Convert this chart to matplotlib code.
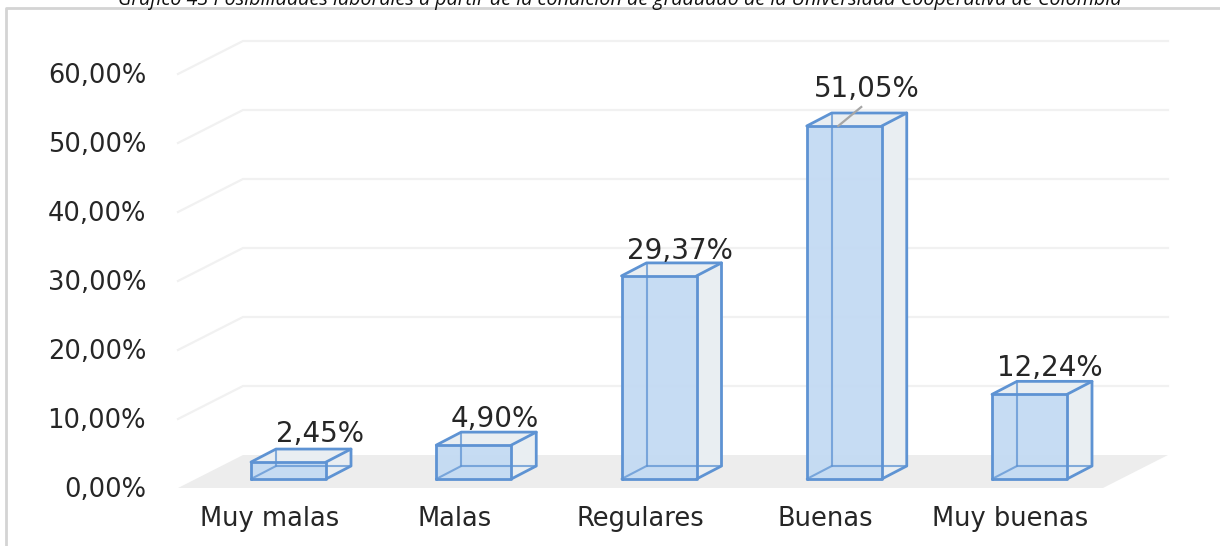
import matplotlib
matplotlib.use("Agg")
import matplotlib.pyplot as plt

categories = ["Muy malas", "Malas", "Regulares", "Buenas", "Muy buenas"]
values = [2.45, 4.90, 29.37, 51.05, 12.24]
value_labels = ["2,45%", "4,90%", "29,37%", "51,05%", "12,24%"]
ticks = [0, 10, 20, 30, 40, 50, 60]
tick_labels = ["0,00%", "10,00%", "20,00%", "30,00%", "40,00%", "50,00%", "60,00%"]
title = "Gráfico 43 Posibilidades laborales a partir de la condición de graduado de la Universidad Cooperativa de Colombia"

W, H = 1220, 546
PX_X, PX_Y = 185.25, 6.915      # pixels per category / per percent
X0_PX, Y0_PX = 288.5, 479       # pixel position of category 0, value 0
px = lambda p: p / PX_X
py = lambda p: p / PX_Y

fig = plt.figure(figsize=(W / 100, H / 100), dpi=100, facecolor="white")
ax = fig.add_axes([0, 0, 1, 1])
ax.set_xlim(-X0_PX / PX_X, (W - X0_PX) / PX_X)
ax.set_ylim((Y0_PX - H) / PX_Y, Y0_PX / PX_Y)
ax.axis("off")

FONT = "DejaVu Sans"
TXT = "#262626"
EDGE = "#5E93D3"
FRONT = "#C3DAF3"
SIDE = "#E9EEF2"

# wall / floor geometry, relative to the plot scale
bw = px(75)
dx, dy = px(25), py(13)
wall_dx, wall_dy = px(65), py(33)
wall_left = px(178 - X0_PX)
wall_right = px(1103 - X0_PX)
base = py(Y0_PX - 488)

# floor
ax.fill([wall_left, wall_left + wall_dx, wall_right + wall_dx, wall_right],
        [base, base + wall_dy, base + wall_dy, base],
        color="#EDEDED", lw=0, zorder=1)

# gridlines with perspective returns
for t, lab in zip(ticks, tick_labels):
    y = base + t * 69.0 / 69.15
    if t > 0:
        ax.plot([wall_left, wall_left + wall_dx, wall_right + wall_dx],
                [y, y + wall_dy, y + wall_dy],
                color="#F1F1F1", lw=1.6, zorder=1.5, solid_joinstyle="round")
    ax.text(px(146 - X0_PX), y - py(2), lab, ha="right", va="center",
            fontsize=18.5, color=TXT, family=FONT, zorder=5)

# 3D bars
for i, v in enumerate(values):
    l, r = i - bw / 2, i + bw / 2
    ax.fill([r, r + dx, r + dx, r], [0, dy, v + dy, v], color=SIDE, lw=0, zorder=2)
    ax.fill([l, r, r + dx, l + dx], [v, v, v + dy, v + dy], color=SIDE, lw=0, zorder=2)
    ax.bar(i, v, width=bw, bottom=0, color=FRONT, alpha=0.95, lw=0, zorder=3)
    ek = dict(color=EDGE, zorder=4, solid_capstyle="round", solid_joinstyle="round")
    # hidden edges (thin)
    ax.plot([l + dx, l + dx], [dy, v + dy], lw=1.5, alpha=0.75, **ek)
    ax.plot([l, l + dx, r + dx], [0, dy, dy], lw=1.5, alpha=0.75, **ek)
    # outer edges
    ax.plot([l, r, r, l, l], [0, 0, v, v, 0], lw=2.0, **ek)
    ax.plot([r, r + dx, r + dx, r], [0, dy, v + dy, v], lw=2.0, **ek)
    ax.plot([l, l + dx, r + dx], [v, v + dy, v + dy], lw=2.0, **ek)

# data labels, each nudged off its bar as in the source
label_nudge_px = [(32, 28), (21, 26), (21, 25), (23, 37), (20, 26)]
for i, (v, lab, (nx, ny)) in enumerate(zip(values, value_labels, label_nudge_px)):
    ax.text(i + px(nx), v + py(ny), lab, ha="center", va="center",
            fontsize=20, color=TXT, family=FONT, zorder=6)

# leader line of the tallest bar
i_max = values.index(max(values))
ax.plot([i_max + px(-6), i_max + px(17)], [values[i_max], values[i_max] + py(19)],
        color="#A6A6A6", lw=1.6, zorder=5)

# category labels
cat_nudge_px = [-18.5, -19, -19, -19, -19.5]
for i, c in enumerate(categories):
    ax.text(i + px(cat_nudge_px[i]), py(Y0_PX - 519), c, ha="center", va="center",
            fontsize=18.5, color=TXT, family=FONT, zorder=5)

# frame of the pasted picture
ax.plot([px(6 - X0_PX), px(6 - X0_PX), px(W - X0_PX)],
        [py(Y0_PX - H), py(Y0_PX - 8), py(Y0_PX - 8)],
        color="#D4D4D4", lw=2, zorder=6)

# cropped caption
ax.text(px(620 - X0_PX), py(Y0_PX - 0), title, ha="center", va="center",
        fontsize=14.2, style="italic", color="#111111", family="Open Sans", zorder=7)

fig.savefig("out.png", dpi=100)
